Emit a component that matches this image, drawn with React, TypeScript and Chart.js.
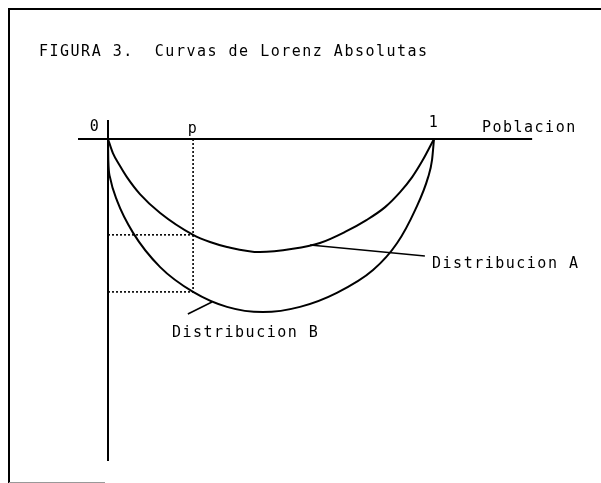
import React, { useEffect, useRef } from "react";
import { Chart, registerables } from "chart.js";

Chart.register(...registerables);

// Population share (x) and absolute Lorenz values (y, negative = below axis)
const curveAX = [0, 0.015, 0.037, 0.058, 0.098, 0.16, 0.261, 0.313, 0.365, 0.466, 0.567, 0.65, 0.727, 0.794, 0.85, 0.896, 0.933, 0.966, 1];
const curveAY = [0, -0.043, -0.083, -0.117, -0.169, -0.227, -0.294, -0.316, -0.331, -0.347, -0.337, -0.319, -0.285, -0.248, -0.209, -0.163, -0.117, -0.064, 0];

const curveBX = [0, 0.0009, 0.006, 0.028, 0.077, 0.16, 0.261, 0.365, 0.475, 0.589, 0.702, 0.813, 0.887, 0.942, 0.982, 0.994, 1];
const curveBY = [0, -0.064, -0.117, -0.19, -0.288, -0.393, -0.469, -0.515, -0.531, -0.515, -0.472, -0.402, -0.319, -0.218, -0.117, -0.064, 0];

const pValue = 0.261;
const aAtP = -0.294;
const bAtP = -0.469;

const tickLabels = ["0", "p", "1"];
const tickValues = [0, pValue, 1];
const axisLabel = "Poblacion";
const seriesLabels = ["Distribucion A", "Distribucion B"];
const titleText = "FIGURA 3.  Curvas de Lorenz Absolutas";

// leader lines from curves to labels
const leaderAX = [0.62, 0.972];
const leaderAY = [-0.325, -0.359];
const leaderBX = [0.319, 0.245];
const leaderBY = [-0.5, -0.537];

const zip = (xs: number[], ys: number[]) => xs.map((x, i) => ({ x, y: ys[i] }));

const FONT = "15px 'DejaVu Sans Mono', monospace";

export default function App() {
  const ref = useRef<HTMLCanvasElement | null>(null);

  useEffect(() => {
    if (!ref.current) return;
    const textPlugin = {
      id: "texts",
      afterDraw(chart: any) {
        const ctx = chart.ctx as CanvasRenderingContext2D;
        const xs = chart.scales.x;
        const ys = chart.scales.y;
        const px = (v: number) => xs.getPixelForValue(v);
        const py = (v: number) => ys.getPixelForValue(v);
        ctx.save();
        // frame
        ctx.strokeStyle = "#000";
        ctx.lineWidth = 2;
        ctx.beginPath();
        ctx.moveTo(9, 483);
        ctx.lineTo(9, 9);
        ctx.lineTo(601, 9);
        ctx.stroke();
        ctx.strokeStyle = "#999";
        ctx.lineWidth = 1;
        ctx.beginPath();
        ctx.moveTo(9, 482.5);
        ctx.lineTo(105, 482.5);
        ctx.stroke();

        ctx.fillStyle = "#000";
        ctx.font = FONT;
        (ctx as any).letterSpacing = "1.5px";
        ctx.textBaseline = "alphabetic";
        ctx.textAlign = "left";
        ctx.fillText(titleText, 39, 56);

        // tick labels
        ctx.textAlign = "center";
        const tickBase = [0.025, 0.018, 0.037];
        tickLabels.forEach((t, i) => {
          ctx.fillText(t, px(tickValues[i]) - (i === 0 ? 13 : 0), py(tickBase[i]));
        });
        ctx.textAlign = "left";
        ctx.fillText(axisLabel, px(1.147), py(0.02));
        ctx.fillText(seriesLabels[0], px(0.994), py(-0.396));
        ctx.fillText(seriesLabels[1], px(0.196), py(-0.607));
        ctx.restore();
      },
    };

    const line = (data: any[], extra: any = {}) => ({
      data,
      showLine: true,
      borderColor: "#000",
      borderWidth: 2,
      pointRadius: 0,
      tension: 0,
      fill: false,
      ...extra,
    });

    const chart = new Chart(ref.current, {
      type: "scatter",
      data: {
        datasets: [
          line([{ x: -0.092, y: 0 }, { x: 1.301, y: 0 }]),
          line([{ x: 0, y: 0.058 }, { x: 0, y: -0.988 }]),
          line(zip(curveAX, curveAY), { cubicInterpolationMode: "monotone" }),
          line(zip(curveBX, curveBY), { cubicInterpolationMode: "monotone" }),
          line([{ x: pValue, y: 0 }, { x: pValue, y: bAtP }], { borderDash: [2, 2], borderWidth: 1.6 }),
          line([{ x: 0, y: aAtP }, { x: pValue, y: aAtP }], { borderDash: [2, 2], borderWidth: 1.6 }),
          line([{ x: 0, y: bAtP }, { x: pValue, y: bAtP }], { borderDash: [2, 2], borderWidth: 1.6 }),
          line(zip(leaderAX, leaderAY), { borderWidth: 1.6 }),
          line(zip(leaderBX, leaderBY), { borderWidth: 1.6 }),
        ],
      },
      options: {
        animation: false,
        responsive: false,
        events: [],
        layout: { padding: 0 },
        plugins: { legend: { display: false }, tooltip: { enabled: false }, title: { display: false } },
        scales: {
          x: { type: "linear", display: false, min: -108 / 326, max: 493 / 326 },
          y: { type: "linear", display: false, min: -344 / 326, max: 139 / 326 },
        },
      },
      plugins: [textPlugin],
    });
    return () => chart.destroy();
  }, []);

  return (
    <div style={{ position: "absolute", left: 0, top: 0, width: 601, height: 483, background: "#fff" }}>
      <canvas ref={ref} width={601} height={483} style={{ display: "block" }} />
    </div>
  );
}
